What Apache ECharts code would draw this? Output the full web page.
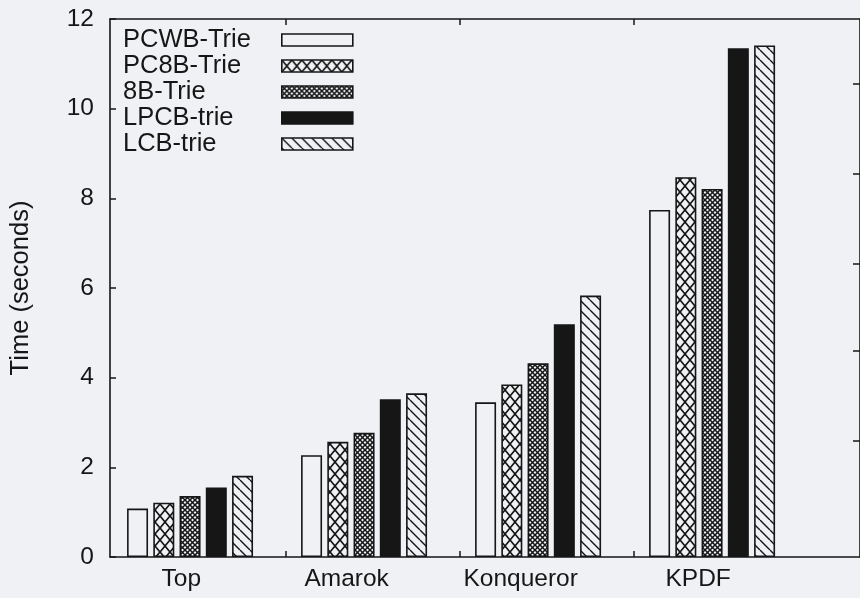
<!DOCTYPE html>
<html><head><meta charset="utf-8">
<script src="https://cdn.jsdelivr.net/npm/echarts@6/dist/echarts.min.js"></script>
<style>html,body{margin:0;padding:0;background:#eff1f4;} #chart{width:860px;height:598px;}</style>
</head><body><div id="chart"></div>
<script>
// ---- data ----
const categories = ['Top', 'Amarok', 'Konqueror', 'KPDF'];
const seriesNames = ['PCWB-Trie', 'PC8B-Trie', '8B-Trie', 'LPCB-trie', 'LCB-trie'];
const pcwbTrie = [1.08, 2.27, 3.45, 7.74];
const pc8bTrie = [1.21, 2.57, 3.85, 8.47];
const b8Trie   = [1.36, 2.77, 4.32, 8.21];
const lpcbTrie = [1.55, 3.52, 5.19, 11.35];
const lcbTrie  = [1.81, 3.65, 5.83, 11.41];
const yMin = 0, yMax = 12, yStep = 2;
const seriesValues = [pcwbTrie, pc8bTrie, b8Trie, lpcbTrie, lcbTrie];

// ---- styles ----
const BG = '#eff1f4', INK = '#161616';
const FONT = '"Liberation Sans", Arial, Helvetica, sans-serif';
function tile(w, h, draw) {
  const c = document.createElement('canvas');
  c.width = w; c.height = h;
  const g = c.getContext('2d');
  g.fillStyle = BG; g.fillRect(0, 0, w, h);
  g.strokeStyle = INK;
  draw(g, w, h);
  return { image: c, repeat: 'repeat' };
}
function back(g, W, H, lw) { g.lineWidth = lw; g.beginPath(); for (let k = -1; k <= 1; k++) { g.moveTo(k * W, 0); g.lineTo(k * W + W, H); } g.stroke(); }
function fwd(g, W, H, lw) { g.lineWidth = lw; g.beginPath(); for (let k = -1; k <= 1; k++) { g.moveTo(k * W, H); g.lineTo(k * W + W, 0); } g.stroke(); }
const fills = [
  BG,
  tile(10, 12, (g, W, H) => { back(g, W, H, 1.7); fwd(g, W, H, 1.7); }),
  tile(5, 5, (g, W, H) => { back(g, W, H, 1.5); fwd(g, W, H, 1.5); }),
  INK,
  tile(10, 10, (g, W, H) => { back(g, W, H, 1.4); })
];

const series = seriesNames.map((name, s) => ({
  name: name,
  type: 'bar',
  xAxisIndex: 0, yAxisIndex: 0,
  barWidth: 21,
  barGap: '25%',
  itemStyle: { color: fills[s], borderColor: INK, borderWidth: 1.6 },
  data: categories.map((c, i) => [i, seriesValues[s][i]])
}));

const legendText = { fontSize: 25.5, lineHeight: 26, color: INK, fontFamily: FONT };
const axisLine = { show: true, onZero: false, lineStyle: { color: INK, width: 1.6 } };
const tickStyle = { color: INK, width: 1.5 };
const labelFont = { fontSize: 24.5, color: INK, fontFamily: FONT };

const option = {
  animation: false,
  backgroundColor: BG,
  grid: { left: 108, right: -3, top: 19, bottom: 41 },
  legend: [
    { left: 113, top: 22, orient: 'vertical', icon: 'none', itemWidth: 0, itemHeight: 12, itemGap: 0,
      selectedMode: false, textStyle: legendText, data: seriesNames },
    { left: 276, top: 22, orient: 'vertical', icon: 'rect', itemWidth: 71, itemHeight: 12, itemGap: 0,
      selectedMode: false, textStyle: legendText, formatter: () => ' ', data: seriesNames,
      itemStyle: { borderColor: INK, borderWidth: 1.6 } }
  ],
  xAxis: [
    { type: 'value', position: 'bottom', min: -0.46, max: 3.85,
      axisLine: axisLine, splitLine: { show: false },
      axisTick: { show: true, inside: true, length: 6, lineStyle: tickStyle, customValues: [0.55, 1.55, 2.55] },
      axisLabel: Object.assign({ customValues: [-0.05, 0.9, 1.9, 2.92], formatter: v => categories[Math.round(v)], margin: 10 }, labelFont) },
    { type: 'value', position: 'top', min: -0.46, max: 3.85,
      axisLine: axisLine, splitLine: { show: false },
      axisTick: { show: true, inside: true, length: 6, lineStyle: tickStyle, customValues: [0.55, 1.55, 2.55] },
      axisLabel: { show: false } }
  ],
  yAxis: [
    { type: 'value', position: 'left', min: yMin, max: yMax, interval: yStep,
      name: 'Time (seconds)', nameLocation: 'middle', nameGap: 76,
      nameTextStyle: { fontSize: 25.5, color: INK, fontFamily: FONT },
      axisLine: axisLine, splitLine: { show: false },
      axisTick: { show: true, inside: true, length: 6, lineStyle: tickStyle },
      axisLabel: Object.assign({ margin: 16 }, labelFont) },
    { type: 'value', position: 'right', min: yMin, max: yMax, interval: yStep,
      axisLine: axisLine, splitLine: { show: false },
      axisTick: { show: true, inside: true, length: 7, lineStyle: tickStyle, customValues: [2.6, 4.6, 6.55, 8.55, 10.55] },
      axisLabel: { show: false } }
  ],
  series: series
};
const chart = echarts.init(document.getElementById('chart'), null, { renderer: 'canvas' });
chart.setOption(option);
</script>
</body></html>
